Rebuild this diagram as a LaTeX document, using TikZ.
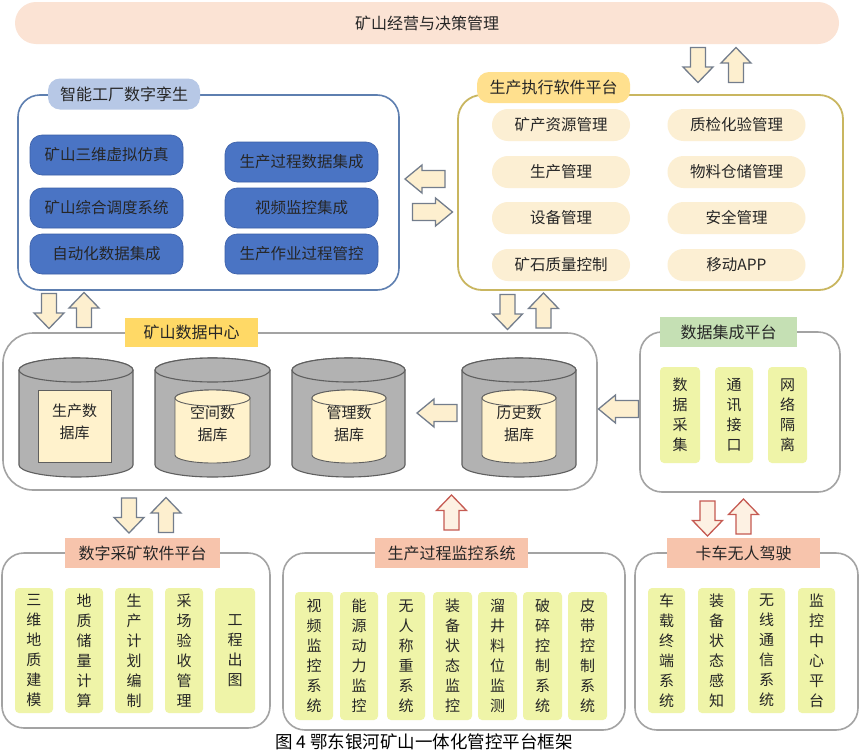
\documentclass[tikz,border=0pt]{standalone}
\usepackage{fontspec}
\setmainfont{Noto Sans CJK SC}
\definecolor{txt}{HTML}{262626}
\definecolor{bannerF}{HTML}{FBE3D4}
\definecolor{blueE}{HTML}{5E7FB0}
\definecolor{tabBlue}{HTML}{B7C8E6}
\definecolor{boxBlue}{HTML}{4A74C4}
\definecolor{boxBlueE}{HTML}{3A5EA6}
\definecolor{goldE}{HTML}{C9B660}
\definecolor{tabGold}{HTML}{FFE08E}
\definecolor{pillF}{HTML}{FCEFD3}
\definecolor{grayE}{HTML}{A3A3A3}
\definecolor{tabDC}{HTML}{FFD966}
\definecolor{cylF}{HTML}{B2B2B2}
\definecolor{cylE}{HTML}{5F5F5F}
\definecolor{creamF}{HTML}{FFF2CC}
\definecolor{tabGreen}{HTML}{C5E0B4}
\definecolor{innerF}{HTML}{EFF4A8}
\definecolor{tabSalmon}{HTML}{F7C4AC}
\definecolor{arrE}{HTML}{737D8C}
\definecolor{arrF}{HTML}{FDEFCF}
\definecolor{redE}{HTML}{C55A52}
\definecolor{redF}{HTML}{FDF1E3}
\tikzset{
  base/.style={inner sep=0pt, text=txt, font=\fontsize{15}{18}\selectfont},
  banner/.style={base, fill=bannerF, rounded corners=21pt, minimum width=824pt, minimum height=42pt, font=\fontsize{16}{19}\selectfont},
  panelblue/.style={base, draw=blueE, line width=1.6pt, rounded corners=22pt},
  panelgold/.style={base, draw=goldE, line width=1.8pt, rounded corners=24pt},
  panelgray/.style={base, draw=grayE, line width=1.6pt, rounded corners=24pt},
  tabbox/.style={base, minimum height=30pt, font=\fontsize{16}{19}\selectfont},
  bluebox/.style={base, fill=boxBlue, draw=boxBlueE, line width=0.6pt, rounded corners=12pt, minimum width=153pt, minimum height=40pt, font=\fontsize{15.5}{18}\selectfont},
  pill/.style={base, fill=pillF, rounded corners=16pt, minimum width=138pt, minimum height=32pt, font=\fontsize{15.5}{18}\selectfont},
  vbox/.style={base, fill=innerF, rounded corners=4pt, align=center, font=\fontsize{15}{20}\selectfont},
  dbtext/.style={base, align=center, font=\fontsize{15}{22}\selectfont},
  cylo/.style={draw=cylE, fill=cylF, line width=1.1pt},
  cyli/.style={draw=cylE, fill=creamF, line width=0.9pt},
  arrgray/.style={draw=arrE, fill=arrF, line width=1.3pt, line join=miter},
  arrred/.style={draw=redE, fill=redF, line width=1.3pt, line join=miter}
}
\newcommand\ArrDn[3]{\draw[#1,shift={(#2,#3)}] (-7.5,-17.5) -- (7.5,-17.5) -- (7.5,2) -- (15,2) -- (0,17.5) -- (-15,2) -- (-7.5,2) -- cycle;}
\newcommand\ArrUp[3]{\draw[#1,shift={(#2,#3)}] (-7.5,17.5) -- (7.5,17.5) -- (7.5,-2) -- (15,-2) -- (0,-17.5) -- (-15,-2) -- (-7.5,-2) -- cycle;}
\newcommand\ArrLf[3]{\draw[#1,shift={(#2,#3)}] (20,-8.5) -- (20,8.5) -- (-3,8.5) -- (-3,14) -- (-20,0) -- (-3,-14) -- (-3,-8.5) -- cycle;}
\newcommand\ArrRt[3]{\draw[#1,shift={(#2,#3)}] (-20,-8.5) -- (-20,8.5) -- (3,8.5) -- (3,14) -- (20,0) -- (3,-14) -- (3,-8.5) -- cycle;}
\newcommand\CylShape[6]{%
  \pgfmathsetmacro\crx{(#2-#1)/2}%
  \pgfmathsetmacro\ccx{(#1+#2)/2}%
  \draw[#6] (#1,#3) -- (#1,#4) arc[start angle=180,end angle=0,x radius=\crx,y radius=#5] -- (#2,#3) arc[start angle=0,end angle=-180,x radius=\crx,y radius=#5] -- cycle;
  \draw[#6] (\ccx,#3) ellipse[x radius=\crx,y radius=#5];
}
\begin{document}
\begin{tikzpicture}[x=1pt,y=-1pt]
\useasboundingbox[fill=white] (0,0) rectangle (865,755);

% top banner
\node[banner] (top) at (427,23) {矿山经营与决策管理};
\ArrDn{arrgray}{698}{65}
\ArrUp{arrgray}{736}{65}

% left panel
\node[panelblue, minimum width=381pt, minimum height=195pt] (pL) at (208.5,192.5) {};
\node[tabbox, fill=tabBlue, rounded corners=12pt, minimum width=152pt, minimum height=31pt] (tL) at (124,94) {智能工厂数字孪生};
\node[bluebox] (l1) at (106.5,155) {矿山三维虚拟仿真};
\node[bluebox] (l2) at (106.5,208) {矿山综合调度系统};
\node[bluebox] (l3) at (106.5,254) {自动化数据集成};
\node[bluebox] (r1) at (301.5,162) {生产过程数据集成};
\node[bluebox] (r2) at (301.5,208) {视频监控集成};
\node[bluebox] (r3) at (301.5,254) {生产作业过程管控};

% right panel
\node[panelgold, minimum width=385pt, minimum height=195pt] (pR) at (650.5,192.5) {};
\node[tabbox, fill=tabGold, rounded corners=12pt, minimum width=153pt, minimum height=31pt] (tR) at (553.5,87.5) {生产执行软件平台};
\node[pill] (m1) at (561,125) {矿产资源管理};
\node[pill] (m2) at (561,172) {生产管理};
\node[pill] (m3) at (561,218) {设备管理};
\node[pill] (m4) at (561,265) {矿石质量控制};
\node[pill] (n1) at (736.5,125) {质检化验管理};
\node[pill] (n2) at (736.5,172) {物料仓储管理};
\node[pill] (n3) at (736.5,218) {安全管理};
\node[pill] (n4) at (736.5,265) {移动APP};

% arrows between panels
\ArrLf{arrgray}{425}{179}
\ArrRt{arrgray}{432.5}{212}
\ArrDn{arrgray}{49}{311}
\ArrUp{arrgray}{84}{310}
\ArrDn{arrgray}{507.5}{312}
\ArrUp{arrgray}{543.5}{310.5}

% data center
\node[panelgray, rounded corners=30pt, minimum width=594pt, minimum height=157pt] (pD) at (300,411.5) {};
\node[tabbox, fill=tabDC, minimum width=133pt, minimum height=29pt] (tD) at (191.5,332.5) {矿山数据中心};
\CylShape{19}{133}{370}{465}{12}{cylo}
\CylShape{155}{270}{370}{465}{12}{cylo}
\CylShape{292}{405}{370}{465}{12}{cylo}
\CylShape{462}{576}{370}{465}{12}{cylo}
\node[base, fill=creamF, draw=cylE, line width=0.9pt, minimum width=73pt, minimum height=72pt] (c1in) at (74.5,426) {};
\CylShape{175}{250}{398}{455}{8}{cyli}
\CylShape{312}{386}{398}{455}{8}{cyli}
\CylShape{482}{556}{398}{455}{8}{cyli}
\node[dbtext] (db1) at (74.5,422) {生产数\\据库};
\node[dbtext] (db2) at (212.5,424) {空间数\\据库};
\node[dbtext] (db3) at (349,424) {管理数\\据库};
\node[dbtext] (db4) at (519,424) {历史数\\据库};
\ArrLf{arrgray}{437}{413}

% data integration
\node[panelgray, rounded corners=22pt, minimum width=200pt, minimum height=160pt] (pI) at (740,412) {};
\node[tabbox, fill=tabGreen, minimum width=137pt] (tI) at (728.5,332) {数据集成平台};
\node[vbox, minimum width=40pt, minimum height=96pt] (i1) at (680,415) {数\\据\\采\\集};
\node[vbox, minimum width=38pt, minimum height=96pt] (i2) at (734,415) {通\\讯\\接\\口};
\node[vbox, minimum width=39pt, minimum height=96pt] (i3) at (787.5,415) {网\\络\\隔\\离};
\ArrLf{arrgray}{618.5}{409}

% bottom arrows
\ArrDn{arrgray}{129}{515.5}
\ArrUp{arrgray}{166}{515}
\ArrUp{arrred}{451.5}{512.5}
\ArrDn{arrred}{707.5}{518.5}
\ArrUp{arrred}{743.5}{516.5}

% bottom panel 1
\node[panelgray, rounded corners=22pt, minimum width=268pt, minimum height=175pt] (pB1) at (136,640.5) {};
\node[tabbox, fill=tabSalmon, minimum width=155pt] (tB1) at (142.5,553) {数字采矿软件平台};
\node[vbox, minimum width=38pt, minimum height=125pt] (a1) at (34,650.5) {三\\维\\地\\质\\建\\模};
\node[vbox, minimum width=38pt, minimum height=125pt] (a2) at (84,650.5) {地\\质\\储\\量\\计\\算};
\node[vbox, minimum width=38pt, minimum height=125pt] (a3) at (134,650.5) {生\\产\\计\\划\\编\\制};
\node[vbox, minimum width=38pt, minimum height=125pt] (a4) at (184,650.5) {采\\场\\验\\收\\管\\理};
\node[vbox, minimum width=40pt, minimum height=125pt] (a5) at (235,650.5) {工\\程\\出\\图};

% bottom panel 2
\node[panelgray, rounded corners=22pt, minimum width=342pt, minimum height=177pt] (pB2) at (454,641.5) {};
\node[tabbox, fill=tabSalmon, minimum width=153pt] (tB2) at (451.5,553) {生产过程监控系统};
\node[vbox, minimum width=38pt, minimum height=128pt] (b1) at (314,656) {视\\频\\监\\控\\系\\统};
\node[vbox, minimum width=38pt, minimum height=128pt] (b2) at (359,656) {能\\源\\动\\力\\监\\控};
\node[vbox, minimum width=38pt, minimum height=128pt] (b3) at (406,656) {无\\人\\称\\重\\系\\统};
\node[vbox, minimum width=39pt, minimum height=128pt] (b4) at (452.5,656) {装\\备\\状\\态\\监\\控};
\node[vbox, minimum width=39pt, minimum height=128pt] (b5) at (497.5,656) {溜\\井\\料\\位\\监\\测};
\node[vbox, minimum width=39pt, minimum height=128pt] (b6) at (542.5,656) {破\\碎\\控\\制\\系\\统};
\node[vbox, minimum width=39pt, minimum height=128pt] (b7) at (587.5,656) {皮\\带\\控\\制\\系\\统};

% bottom panel 3
\node[panelgray, rounded corners=22pt, minimum width=223pt, minimum height=177pt] (pB3) at (746.5,641.5) {};
\node[tabbox, fill=tabSalmon, minimum width=153pt] (tB3) at (743.5,553) {卡车无人驾驶};
\node[vbox, minimum width=37pt, minimum height=125pt] (c1) at (666.5,650.5) {车\\载\\终\\端\\系\\统};
\node[vbox, minimum width=37pt, minimum height=125pt] (c2) at (716.5,650.5) {装\\备\\状\\态\\感\\知};
\node[vbox, minimum width=37pt, minimum height=125pt] (c3) at (766.5,650.5) {无\\线\\通\\信\\系\\统};
\node[vbox, minimum width=37pt, minimum height=125pt] (c4) at (816.5,650.5) {监\\控\\中\\心\\平\\台};

% caption
\node[base, text=black, font=\fontsize{17.5}{21}\selectfont] (cap) at (424,742) {图 4 鄂东银河矿山一体化管控平台框架};
\end{tikzpicture}
\end{document}
